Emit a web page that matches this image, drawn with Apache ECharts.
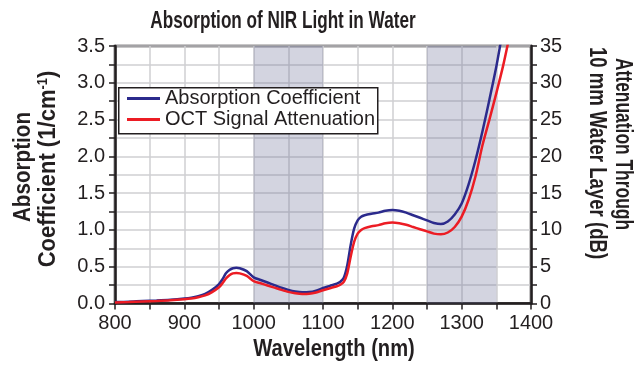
<!DOCTYPE html>
<html>
<head>
<meta charset="utf-8">
<script src="https://cdn.jsdelivr.net/npm/echarts@6/dist/echarts.min.js"></script>
<style>
  html, body { margin: 0; padding: 0; background: #fff; }
  #chart { width: 637px; height: 365px; }
</style>
</head>
<body>
<div id="chart"></div>
<script>
// Wavelength samples (nm)
const wavelengths = [
  800, 820, 840, 860, 880, 900, 910, 920, 930, 940,
  950, 955, 960, 965, 970, 975, 980, 990, 1000, 1010,
  1020, 1030, 1040, 1050, 1060, 1070, 1080, 1090, 1100, 1110,
  1120, 1125, 1130, 1135, 1140, 1145, 1150, 1155, 1160, 1170,
  1180, 1190, 1200, 1210, 1220, 1230, 1240, 1250, 1260, 1270,
  1280, 1290, 1300, 1310, 1320, 1330, 1340, 1350, 1360, 1370
];

// Absorption coefficient of water (1/cm)
const absorption = [
  0.020, 0.025, 0.035, 0.042, 0.052, 0.068, 0.080, 0.100, 0.130, 0.185,
  0.265, 0.330, 0.410, 0.455, 0.480, 0.485, 0.480, 0.440, 0.355, 0.320,
  0.285, 0.250, 0.215, 0.185, 0.163, 0.152, 0.155, 0.175, 0.210, 0.240,
  0.270, 0.295, 0.350, 0.520, 0.800, 1.020, 1.130, 1.180, 1.200, 1.220,
  1.235, 1.260, 1.270, 1.260, 1.235, 1.200, 1.165, 1.130, 1.095, 1.080,
  1.115, 1.210, 1.360, 1.620, 1.950, 2.340, 2.770, 3.220, 3.750, 4.300
];

// OCT signal attenuation through a 10 mm water layer (dB)
const attenuationDb = [
  0.15, 0.20, 0.28, 0.35, 0.44, 0.58, 0.68, 0.85, 1.10, 1.55,
  2.20, 2.75, 3.40, 3.85, 4.10, 4.15, 4.10, 3.75, 3.05, 2.75,
  2.45, 2.15, 1.85, 1.58, 1.40, 1.30, 1.33, 1.50, 1.80, 2.08,
  2.35, 2.55, 2.95, 4.10, 6.40, 8.40, 9.50, 10.00, 10.25, 10.50,
  10.65, 10.90, 11.00, 10.90, 10.70, 10.40, 10.10, 9.80, 9.50, 9.40,
  9.65, 10.40, 11.80, 14.10, 17.30, 21.50, 25.00, 28.60, 32.40, 36.80
];

// Shaded wavelength windows (nm)
const bands = [[1000, 1100], [1250, 1350]];

const seriesNames = ['Absorption Coefficient', 'OCT Signal Attenuation'];

const FONT = "'Liberation Sans', Arial, Helvetica, sans-serif";
const INK = '#231f20';
const BLUE = '#2b2a8c';
const RED = '#ec1c24';

const chart = echarts.init(document.getElementById('chart'), null, { renderer: 'canvas' });

const axisLine = { show: true, lineStyle: { color: INK, width: 2.5 } };
const tick = { show: true, inside: false, length: 6, lineStyle: { color: INK, width: 1.5 } };
const minorTick = { show: true, splitNumber: 2, length: 6, lineStyle: { color: INK, width: 1.5 } };
const gridLine = { show: true, lineStyle: { color: '#cfcfd2', width: 1.5 } };
const tickFont = { fontFamily: FONT, fontSize: 20, color: INK };

// Condensed bold caption drawn as a graphic text (scaleX narrows the face)
function caption(text, x, y, rotation, sx) {
  return {
    type: 'text', x: x, y: y, rotation: rotation, scaleX: sx, z: 10,
    style: { text: text, fontFamily: FONT, fontWeight: 'bold', fontSize: 24, fill: INK,
             align: 'center', verticalAlign: 'middle' }
  };
}

const leftTitle2 = caption('Coefficient (1/cm{sup|-1})', 48, 169, Math.PI / 2, 0.92);
leftTitle2.style.rich = {
  sup: { fontFamily: FONT, fontWeight: 'bold', fontSize: 14, fill: INK, padding: [0, 0, 10, 0] }
};

chart.setOption({
  animation: false,
  backgroundColor: '#fff',
  grid: {
    left: 115, right: 106, top: 46, bottom: 61.5,
    show: true, borderColor: INK, borderWidth: 2.5, backgroundColor: 'transparent'
  },
  legend: {
    data: seriesNames,
    orient: 'vertical',
    left: 127, top: 88,
    padding: 0,
    itemGap: 0,
    itemWidth: 33, itemHeight: 3,
    icon: 'rect',
    z: 20,
    textStyle: { fontFamily: FONT, fontSize: 20, lineHeight: 21, color: INK }
  },
  xAxis: {
    type: 'value', min: 800, max: 1400, interval: 100,
    axisLine: axisLine, axisTick: tick, minorTick: minorTick,
    splitLine: gridLine, minorSplitLine: gridLine,
    axisLabel: Object.assign({ margin: 10, formatter: v => String(v) }, tickFont)
  },
  yAxis: [
    {
      type: 'value', min: 0, max: 3.5, interval: 0.5, position: 'left',
      axisLine: axisLine, axisTick: tick, minorTick: minorTick,
      splitLine: gridLine, minorSplitLine: gridLine,
      axisLabel: Object.assign({ margin: 10, formatter: v => v.toFixed(1) }, tickFont)
    },
    {
      type: 'value', min: 0, max: 35, interval: 5, position: 'right',
      axisLine: axisLine, axisTick: tick, minorTick: minorTick,
      splitLine: { show: false }, minorSplitLine: { show: false },
      axisLabel: Object.assign({ margin: 9 }, tickFont)
    }
  ],
  graphic: [
    { type: 'rect', left: 118, top: 87, z: 10,
      shape: { width: 259, height: 46 },
      style: { fill: '#fff', stroke: INK, lineWidth: 1.5 } },
    caption('Absorption of NIR Light in Water', 283, 21, 0, 0.715),
    caption('Wavelength (nm)', 334, 349, 0, 0.84),
    caption('Absorption', 23, 167, Math.PI / 2, 0.86),
    leftTitle2,
    caption('Attenuation Through', 623, 144, -Math.PI / 2, 0.725),
    caption('10 mm Water Layer (dB)', 597, 153, -Math.PI / 2, 0.775)
  ],
  series: [
    {
      name: seriesNames[0], type: 'line', xAxisIndex: 0, yAxisIndex: 0,
      data: wavelengths.map((w, i) => [w, absorption[i]]),
      showSymbol: false, smooth: 0.25, clip: true, z: 3,
      lineStyle: { color: BLUE, width: 2.5 }, itemStyle: { color: BLUE },
      markArea: {
        silent: true,
        itemStyle: { color: 'rgba(108,112,152,0.3)' },
        data: bands.map(b => [{ xAxis: b[0] }, { xAxis: b[1] }])
      }
    },
    {
      name: seriesNames[1], type: 'line', xAxisIndex: 0, yAxisIndex: 1,
      data: wavelengths.map((w, i) => [w, attenuationDb[i]]),
      showSymbol: false, smooth: 0.25, clip: true, z: 4,
      lineStyle: { color: RED, width: 2.5 }, itemStyle: { color: RED }
    }
  ]
});
</script>
</body>
</html>
